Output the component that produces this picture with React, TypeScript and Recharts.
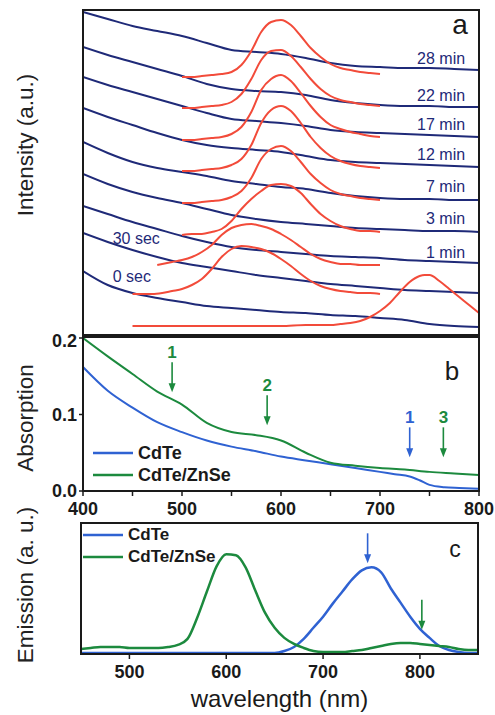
import { LineChart, Line, XAxis, YAxis, ReferenceDot, Legend } from 'recharts'

const FONT = "'Liberation Sans', Arial, Helvetica, sans-serif"
const NAVY = '#1f2a78'
const RED = '#f24b3a'
const BLUE = '#2f62d2'
const GREEN = '#1c8a3e'
const INK = '#1a1a1a'

// panel a: absorption (navy) + emission (red) during shell growth, stacked
const aNm = [400, 425, 450, 475, 500, 525, 550, 575, 600, 625, 650, 675, 700, 725, 750, 775, 800]
const blue28min = [323, 316, 309, 304, 299, 292, 285, 283, 281, 277, 272, 269, 268, 267, 267, 266, 265]
const blue22min = [288, 280, 273, 266, 259, 251, 246, 244, 243, 240, 235, 232, 230, 229, 229, 228, 228]
const blue17min = [258, 250, 243, 236, 229, 222, 216, 214, 212, 209, 205, 203, 202, 201, 200, 199, 198]
const blue12min = [227, 218, 210, 202, 195, 190, 187, 185, 183, 179, 175, 173, 172, 171, 170, 169, 168]
const blue7min = [193, 182, 173, 167, 163, 159, 154, 151, 148, 146, 142, 139, 137, 136, 136, 135, 135]
const blue3min = [161, 151, 143, 137, 132, 126, 120, 116, 113, 111, 109, 107, 106, 105, 104, 104, 103]
const blue1min = [129, 121, 113, 106, 99, 93, 88, 85, 83, 81, 79, 78, 77, 75, 74, 73, 72]
const blue30sec = [102, 93, 85, 78, 72, 68, 64, 60, 57, 54, 51, 49, 47, 45, 44, 43, 42]
const blue0sec = [64, 50, 42, 37, 33, 29, 27, 25, 23, 22, 20, 19, 17, 15, 11, 9, 8]

const redNm = [500, 510, 520, 530, 540, 550, 560, 570, 580, 590, 600, 610, 620, 630, 640, 650, 660, 670, 680, 690, 700]
const red28min = [258, 258, 259, 260, 261, 263, 270, 284, 303, 313, 315, 310, 299, 287, 278, 271, 267, 265, 263, 262, 261]
const red22min = [227, 227, 228, 229, 230, 233, 241, 256, 275, 284, 285, 279, 268, 256, 246, 239, 235, 233, 231, 230, 229]
const red17min = [195, 195, 196, 197, 198, 201, 208, 223, 245, 256, 260, 254, 242, 229, 218, 210, 206, 203, 201, 199, 198]
const red12min = [164, 164, 165, 166, 167, 170, 176, 190, 212, 225, 229, 224, 212, 198, 187, 179, 174, 171, 169, 168, 167]
const red7min = [132, 132, 133, 134, 135, 138, 144, 157, 176, 186, 189, 184, 173, 161, 152, 145, 141, 139, 137, 136, 135]
const red3min = [100, 101, 101, 103, 106, 114, 126, 136, 144, 150, 151, 149, 142, 131, 121, 114, 109, 106, 104, 104, 103]
const red1minNm = [475, 480, 490, 500, 510, 520, 530, 540, 550, 560, 570, 580, 590, 600, 610, 620, 630, 640, 650, 660, 670, 680, 690, 700]
const red1min = [70, 71, 73, 75, 78, 83, 90, 100, 107, 110, 111, 109, 106, 101, 95, 88, 81, 76, 73, 71, 71, 70, 70, 70]
const red30secNm = [450, 460, 470, 480, 490, 500, 510, 520, 530, 540, 550, 560, 570, 580, 590, 600, 610, 620, 630, 640, 650, 660, 670, 680, 690, 700]
const red30sec = [41, 41, 41, 42, 44, 46, 50, 56, 66, 78, 86, 89, 88, 86, 82, 76, 69, 61, 54, 49, 46, 44, 43, 42, 42, 41]
const red0secNm = [450, 500, 550, 600, 625, 650, 660, 670, 680, 690, 700, 710, 720, 730, 740, 745, 750, 760, 770, 780, 790, 800]
const red0sec = [9, 9, 9, 9, 10, 10, 11, 12, 14, 18, 24, 32, 43, 53, 59, 60, 60, 54, 46, 38, 30, 22]

const tagText = ['28 min', '22 min', '17 min', '12 min', '7 min', '3 min', '1 min', '30 sec', '0 sec']
const tagNm = [786, 786, 786, 786, 786, 786, 786, 430, 430]
const tagV = [277, 240, 211, 181, 149, 117, 83, 97, 59]

// panel b: absorption
const bNm = [400, 425, 450, 475, 500, 525, 550, 575, 600, 625, 650, 675, 700, 725, 750, 775, 800]
const absZnSe = [0.2, 0.176, 0.153, 0.13, 0.113, 0.089, 0.077, 0.073, 0.066, 0.05, 0.037, 0.033, 0.03, 0.028, 0.025, 0.023, 0.021]
const bCdTeNm = [400, 425, 450, 475, 500, 525, 550, 575, 600, 625, 650, 675, 700, 715, 730, 740, 750, 765, 780, 800]
const absCdTe = [0.162, 0.131, 0.109, 0.09, 0.077, 0.066, 0.058, 0.052, 0.045, 0.04, 0.035, 0.03, 0.025, 0.022, 0.019, 0.014, 0.008, 0.005, 0.004, 0.003]
const bArrowNm = [490, 586, 730, 764]
const bArrowTip = [0.129, 0.086, 0.044, 0.044]
const bArrowText = ['1', '2', '1', '3']
const bArrowColor = [GREEN, GREEN, BLUE, GREEN]

// panel c: emission
const cNm = [450, 460, 470, 480, 490, 500, 510, 520, 530, 540, 550, 560, 570, 580, 590, 600, 610, 620, 630, 640, 650, 660, 670, 680, 690, 700, 710, 720, 730, 740, 750, 760, 770, 780, 790, 800, 810, 820, 830, 840, 850, 860]
const emZnSe = [0.05, 0.06, 0.07, 0.07, 0.07, 0.06, 0.06, 0.06, 0.06, 0.07, 0.09, 0.15, 0.36, 0.62, 0.87, 0.99, 0.98, 0.86, 0.63, 0.41, 0.26, 0.16, 0.1, 0.06, 0.03, 0.02, 0.02, 0.02, 0.03, 0.04, 0.06, 0.08, 0.1, 0.11, 0.11, 0.1, 0.09, 0.08, 0.07, 0.05, 0.04, 0.04]
const emCdTe = [0.01, 0.01, 0.01, 0.01, 0.01, 0.01, 0.01, 0.01, 0.01, 0.01, 0.01, 0.01, 0.01, 0.01, 0.01, 0.01, 0.01, 0.01, 0.01, 0.01, 0.01, 0.03, 0.07, 0.15, 0.26, 0.37, 0.5, 0.62, 0.74, 0.83, 0.86, 0.81, 0.65, 0.51, 0.37, 0.25, 0.16, 0.08, 0.04, 0.02, 0.01, 0.01]
const cArrowNm = [746, 802]
const cArrowTip = [0.9, 0.24]
const cArrowColor = [BLUE, GREEN]

const pts = (xs: number[], ys: number[]) => xs.map((nm, i) => ({ nm, v: ys[i] }))

const blueA = [blue28min, blue22min, blue17min, blue12min, blue7min, blue3min, blue1min, blue30sec, blue0sec]
const redA = [
  pts(redNm, red28min), pts(redNm, red22min), pts(redNm, red17min), pts(redNm, red12min),
  pts(redNm, red7min), pts(redNm, red3min), pts(red1minNm, red1min), pts(red30secNm, red30sec), pts(red0secNm, red0sec),
]

function Arrow({ cx, cy, color, text }: any) {
  if (cx == null || cy == null) return null
  return (
    <g>
      <line x1={cx} y1={cy - 30} x2={cx} y2={cy - 6} stroke={color} strokeWidth={1.6} />
      <path d={`M${cx - 3.5},${cy - 9} L${cx + 3.5},${cy - 9} L${cx},${cy} Z`} fill={color} />
      {text && (
        <text x={cx} y={cy - 34} textAnchor="middle" fontSize={17} fontWeight="bold" fill={color} fontFamily={FONT}>{text}</text>
      )}
    </g>
  )
}

function LegendBox({ payload, fontSize }: any) {
  return (
    <div style={{ fontFamily: FONT, fontWeight: 'bold', fontSize, color: INK }}>
      {(payload || []).map((p: any) => (
        <div key={p.value} style={{ display: 'flex', alignItems: 'center', height: 22 }}>
          <svg width={40} height={6}><line x1={0} y1={3} x2={40} y2={3} stroke={p.color} strokeWidth={2.5} /></svg>
          <span style={{ marginLeft: 5 }}>{p.value}</span>
        </div>
      ))}
    </div>
  )
}

const frame = (left: number, top: number, width: number, height: number) => (
  <div style={{ position: 'absolute', left, top, width, height, border: `2px solid ${INK}`, boxSizing: 'border-box', pointerEvents: 'none' }} />
)

const hundreds = (v: number) => (v % 100 === 0 ? String(v) : '')

export default function App() {
  return (
    <div style={{ position: 'absolute', left: 0, top: 0, width: 495, height: 715, background: '#fff', fontFamily: FONT }}>
      <div style={{ position: 'absolute', left: 0, top: 0 }}>
        <LineChart width={495} height={338} margin={{ top: 10, right: 16, bottom: 3, left: 83 }}>
          <XAxis type="number" dataKey="nm" domain={[400, 800]} allowDataOverflow hide />
          <YAxis type="number" domain={[0, 325]} allowDataOverflow hide />
          {blueA.map((ys, i) => (
            <Line key={'b' + i} data={pts(aNm, ys)} dataKey="v" type="monotone" stroke={NAVY} strokeWidth={2} dot={false} isAnimationActive={false} />
          ))}
          {redA.map((d, i) => (
            <Line key={'r' + i} data={d} dataKey="v" type="monotone" stroke={RED} strokeWidth={2} dot={false} isAnimationActive={false} />
          ))}
          {tagText.map((t, i) => (
            <ReferenceDot key={t} x={tagNm[i]} y={tagV[i]} r={0}
              shape={(p: any) => (
                <text x={p.cx} y={p.cy} textAnchor={i < 7 ? 'end' : 'start'} dominantBaseline="central" fontSize={16} fill={NAVY} fontFamily={FONT}>{t}</text>
              )} />
          ))}
        </LineChart>
      </div>

      <div style={{ position: 'absolute', left: 0, top: 330 }}>
        <LineChart width={495} height={195} margin={{ top: 8, right: 16, bottom: 4, left: 43 }}>
          <XAxis type="number" dataKey="nm" domain={[400, 800]} allowDataOverflow
            ticks={[400, 450, 500, 550, 600, 650, 700, 750, 800]} tickFormatter={hundreds}
            height={30} tickSize={5} tickMargin={6} axisLine={false}
            tickLine={{ stroke: INK, strokeWidth: 1.5 }}
            tick={{ fontSize: 18, fontWeight: 'bold', fill: INK, fontFamily: FONT }} />
          <XAxis xAxisId="top" orientation="top" type="number" dataKey="nm" domain={[400, 800]} allowDataOverflow
            ticks={[450, 500, 550, 600, 650, 700, 750]} mirror tick={false} tickSize={7} height={0} axisLine={false}
            tickLine={{ stroke: INK, strokeWidth: 1.5 }} />
          <YAxis type="number" domain={[0, 0.2]} allowDataOverflow ticks={[0, 0.1, 0.2]}
            tickFormatter={(v: number) => v.toFixed(1)} width={40} tickSize={4} tickMargin={2} axisLine={false}
            tickLine={{ stroke: INK, strokeWidth: 1.5 }}
            tick={{ fontSize: 18, fontWeight: 'bold', fill: INK, fontFamily: FONT }} />
          <Line name="CdTe" data={pts(bCdTeNm, absCdTe)} dataKey="v" type="monotone" stroke={BLUE} strokeWidth={2} dot={false} isAnimationActive={false} />
          <Line name="CdTe/ZnSe" data={pts(bNm, absZnSe)} dataKey="v" type="monotone" stroke={GREEN} strokeWidth={2} dot={false} isAnimationActive={false} />
          {bArrowNm.map((nm, i) => (
            <ReferenceDot key={'ba' + i} x={nm} y={bArrowTip[i]} r={0}
              shape={(p: any) => <Arrow cx={p.cx} cy={p.cy} color={bArrowColor[i]} text={bArrowText[i]} />} />
          ))}
          <Legend layout="vertical" align="center" verticalAlign="middle"
            wrapperStyle={{ left: 93, top: 112, width: 'auto', height: 'auto' }}
            content={<LegendBox fontSize={18} />} />
        </LineChart>
      </div>

      <div style={{ position: 'absolute', left: 0, top: 515 }}>
        <LineChart width={495} height={200} margin={{ top: 8, right: 17, bottom: 7, left: 81 }}>
          <XAxis xAxisId="minor" type="number" dataKey="nm" domain={[450, 860]} allowDataOverflow
            ticks={[550, 650, 750, 850]} tick={false} tickSize={3} height={0} axisLine={false}
            tickLine={{ stroke: INK, strokeWidth: 1.5 }} />
          <XAxis type="number" dataKey="nm" domain={[450, 860]} allowDataOverflow
            ticks={[500, 600, 700, 800]}
            height={54} tickSize={5} tickMargin={6} axisLine={false}
            tickLine={{ stroke: INK, strokeWidth: 1.5 }}
            tick={{ fontSize: 18, fontWeight: 'bold', fill: INK, fontFamily: FONT }}
            label={{ value: 'wavelength (nm)', position: 'insideBottom', offset: 1, fontSize: 24, fill: INK, fontFamily: FONT }} />
          <YAxis type="number" domain={[0, 1.3]} allowDataOverflow hide />
          <Line name="CdTe" data={pts(cNm, emCdTe)} dataKey="v" type="monotone" stroke={BLUE} strokeWidth={2.5} dot={false} isAnimationActive={false} />
          <Line name="CdTe/ZnSe" data={pts(cNm, emZnSe)} dataKey="v" type="monotone" stroke={GREEN} strokeWidth={2.5} dot={false} isAnimationActive={false} />
          {cArrowNm.map((nm, i) => (
            <ReferenceDot key={'ca' + i} x={nm} y={cArrowTip[i]} r={0}
              shape={(p: any) => <Arrow cx={p.cx} cy={p.cy} color={cArrowColor[i]} />} />
          ))}
          <Legend layout="vertical" align="center" verticalAlign="middle"
            wrapperStyle={{ left: 83, top: 9, width: 'auto', height: 'auto' }}
            content={<LegendBox fontSize={17} />} />
        </LineChart>
      </div>

      {frame(82, 9, 398, 327)}
      {frame(82, 336, 398, 156)}
      {frame(80, 522, 399, 133)}

      <svg width={495} height={715} style={{ position: 'absolute', left: 0, top: 0, pointerEvents: 'none' }}>
        <g fontFamily={FONT} fill="#222" fontSize={22.5}>
          <text transform="translate(25,145) rotate(-90)" textAnchor="middle" dominantBaseline="central">Intensity (a.u.)</text>
          <text transform="translate(25,418) rotate(-90)" textAnchor="middle" dominantBaseline="central">Absorption</text>
          <text transform="translate(25,585) rotate(-90)" textAnchor="middle" dominantBaseline="central">Emission (a. u.)</text>
        </g>
        <text x={460} y={34} textAnchor="middle" fontSize={28} fill={INK} fontFamily={FONT}>a</text>
        <text x={452} y={380} textAnchor="middle" fontSize={26} fill={INK} fontFamily={FONT}>b</text>
        <text x={455} y={557} textAnchor="middle" fontSize={23} fill={INK} fontFamily={FONT}>c</text>
      </svg>
    </div>
  )
}
